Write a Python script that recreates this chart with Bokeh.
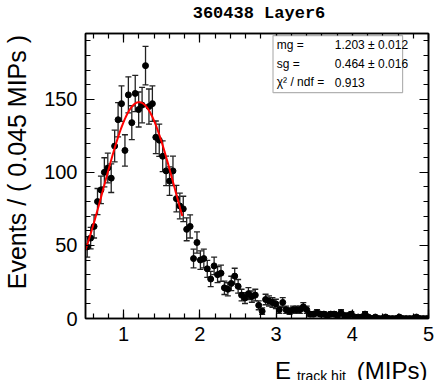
import numpy as np
from bokeh.plotting import figure
from bokeh.layouts import column
from bokeh.models import (ColumnDataSource, Whisker, TeeHead, Label, LinearAxis,
                          SingleIntervalTicker, Range1d, BoxAnnotation)
from bokeh.core.properties import value
from bokeh.embed import file_html
from bokeh.resources import INLINE

# ---- data -------------------------------------------------------------
title_text = "360438 Layer6"
y_title = "Events / ( 0.045 MIPs )"
x_title_main = "E"
x_title_sub = "track hit"
x_title_unit = "(MIPs)"
bin_width = 0.045
x_start = 0.5
counts = [49, 55, 63, 80, 88, 100, 103, 96, 118, 136,
          147, 115, 153, 134, 154, 143, 146, 173, 145, 147,
          124, 122, 111, 101, 94, 101, 82, 77, 75, 61,
          63, 41, 52, 40, 41, 34, 27, 36, 30, 31,
          21, 20, 24, 29, 22, 16, 14, 17, 15, 16,
          9, 5, 13, 12, 11, 10, 6, 11, 6, 5,
          6, 6, 6, 8, 6, 3, 3, 4, 3, 3,
          2, 3, 3, 2, 4, 2, 2, 3, 1, 1,
          1, 3, 1, 0, 1, 0, 0, 1, 0, 0,
          0, 1, 0, 0, 0, 0, 1, 0, 0, 0]
# fit parameters (Gaussian) as shown in the stats box
fit_mean = 1.203
fit_mean_err = 0.012
fit_sigma = 0.464
fit_sigma_err = 0.016
fit_chi2ndf = 0.913
fit_amp = 148.0
fit_range = (0.5, 1.77)
stat_names = ["mg =", "sg =", "\u03c7\u00b2 / ndf ="]
stat_values = ["%.3f \u00b1 %.3f" % (fit_mean, fit_mean_err),
               "%.3f \u00b1 %.3f" % (fit_sigma, fit_sigma_err),
               "%.3f" % fit_chi2ndf]

# ---- derived ------------------------------------------------------------
n = len(counts)
xc = x_start + bin_width * (np.arange(n) + 0.5)
y = np.array(counts, dtype=float)
err = np.sqrt(y)
src = ColumnDataSource(dict(x=xc, y=y))
m = y > 0
src_err = ColumnDataSource(dict(x=xc[m], lo=(y - err)[m], hi=(y + err)[m]))

xf = np.linspace(fit_range[0], fit_range[1], 200)
yf = fit_amp * np.exp(-0.5 * ((xf - fit_mean) / fit_sigma) ** 2)

FONT = "Liberation Sans"
W = 434
FRAME_L, FRAME_R = 84, 428   # frame edges of the main plot (column aligns the strips' frames to it)

def strip(h):
    s = figure(width=W, height=h, output_backend="svg", toolbar_location=None, title=None,
               x_range=Range1d(FRAME_L, FRAME_R), y_range=Range1d(h, 0),
               min_border=0, min_border_left=0, min_border_right=0,
               min_border_top=0, min_border_bottom=0,
               x_axis_type=None, y_axis_type=None)
    s.grid.visible = False
    s.outline_line_color = None
    s.background_fill_color = "white"
    s.border_fill_color = "white"
    return s

# ---- top strip with the title ---------------------------------------------
top = strip(26)
top.add_layout(Label(x=258, y=13, text=title_text, text_font="Liberation Mono",
                     text_font_style="bold", text_font_size="17px", text_align="center",
                     text_baseline="middle", text_color="black"))

# ---- main plot -------------------------------------------------------------
p = figure(width=W, height=323, output_backend="svg", toolbar_location=None, title=None,
           x_range=Range1d(0.5, 5.0), y_range=Range1d(0, 195),
           min_border_left=FRAME_L, min_border_right=W - FRAME_R, min_border_top=7,
           min_border_bottom=31, x_axis_type=None, y_axis_type=None)
p.grid.visible = False
p.outline_line_color = "black"
p.outline_line_width = 1.5
p.background_fill_color = "white"
p.border_fill_color = "white"

def make_axis(interval, show_labels, label=""):
    ax = LinearAxis(ticker=SingleIntervalTicker(interval=interval, num_minor_ticks=5))
    ax.major_tick_in = 9
    ax.major_tick_out = 0
    ax.minor_tick_in = 5
    ax.minor_tick_out = 0
    ax.axis_line_color = "black"
    ax.axis_line_width = 1.5
    ax.major_tick_line_width = 1.2
    ax.minor_tick_line_width = 1.2
    ax.major_label_text_font = FONT
    if show_labels:
        ax.major_label_text_color = "black"
        ax.major_label_text_font_size = "20px"
        ax.major_label_standoff = 8
    else:
        ax.major_label_text_color = None
        ax.major_label_text_font_size = "1px"
        ax.major_label_standoff = 0
    if label:
        ax.axis_label = label
        ax.axis_label_text_font = FONT
        ax.axis_label_text_font_style = "normal"
        ax.axis_label_text_font_size = "25px"
        ax.axis_label_text_color = "black"
    return ax

xb = make_axis(1, True)
xb.major_label_standoff = 8
# leading no-break spaces shift the title towards the top of the axis, as in the original
yl = make_axis(50, True, "\u00a0\u00a0\u00a0\u00a0" + y_title)
yl.axis_label_standoff = 10
xt = make_axis(1, False)
yr = make_axis(50, False)
p.add_layout(xb, "below")
p.add_layout(yl, "left")
p.add_layout(xt, "above")
p.add_layout(yr, "right")

w = Whisker(source=src_err, base="x", lower="lo", upper="hi", line_color="#222222", line_width=1.3,
            upper_head=TeeHead(size=6, line_color="#222222", line_width=1.3),
            lower_head=TeeHead(size=6, line_color="#222222", line_width=1.3))
p.add_layout(w)
p.scatter("x", "y", source=src, size=6, color="black", marker="circle")
p.line(xf, yf, line_color="#ff0000", line_width=2)

# stats box
box = BoxAnnotation(left=2.96, right=4.66, top=193.6, bottom=154.6,
                    fill_color="white", fill_alpha=1.0, line_color="black", line_width=1.2)
p.add_layout(box)
row_y = [186.8, 174.3, 161.8]
for i in range(3):
    p.add_layout(Label(x=3.01, y=row_y[i], text=stat_names[i], text_font=FONT, text_font_size="12px",
                       text_align="left", text_baseline="middle", text_color="black"))
    p.add_layout(Label(x=3.77, y=row_y[i], text=stat_values[i], text_font=FONT, text_font_size="12px",
                       text_align="left", text_baseline="middle", text_color="black"))

# ---- bottom strip with the x-axis title -------------------------------------
bot = strip(31)
bot.add_layout(Label(x=427, y=21, text=x_title_unit, text_font=FONT, text_font_size="24px",
                     text_align="right", text_baseline="alphabetic", text_color="black"))
bot.add_layout(Label(x=296, y=26, text=x_title_sub, text_font=FONT, text_font_size="14px",
                     text_align="left", text_baseline="alphabetic", text_color="black"))
bot.add_layout(Label(x=290, y=21, text=x_title_main, text_font=FONT, text_font_size="24px",
                     text_align="right", text_baseline="alphabetic", text_color="black"))

layout = column(top, p, bot, spacing=0)
open("out.html", "w").write(file_html(layout, INLINE))
